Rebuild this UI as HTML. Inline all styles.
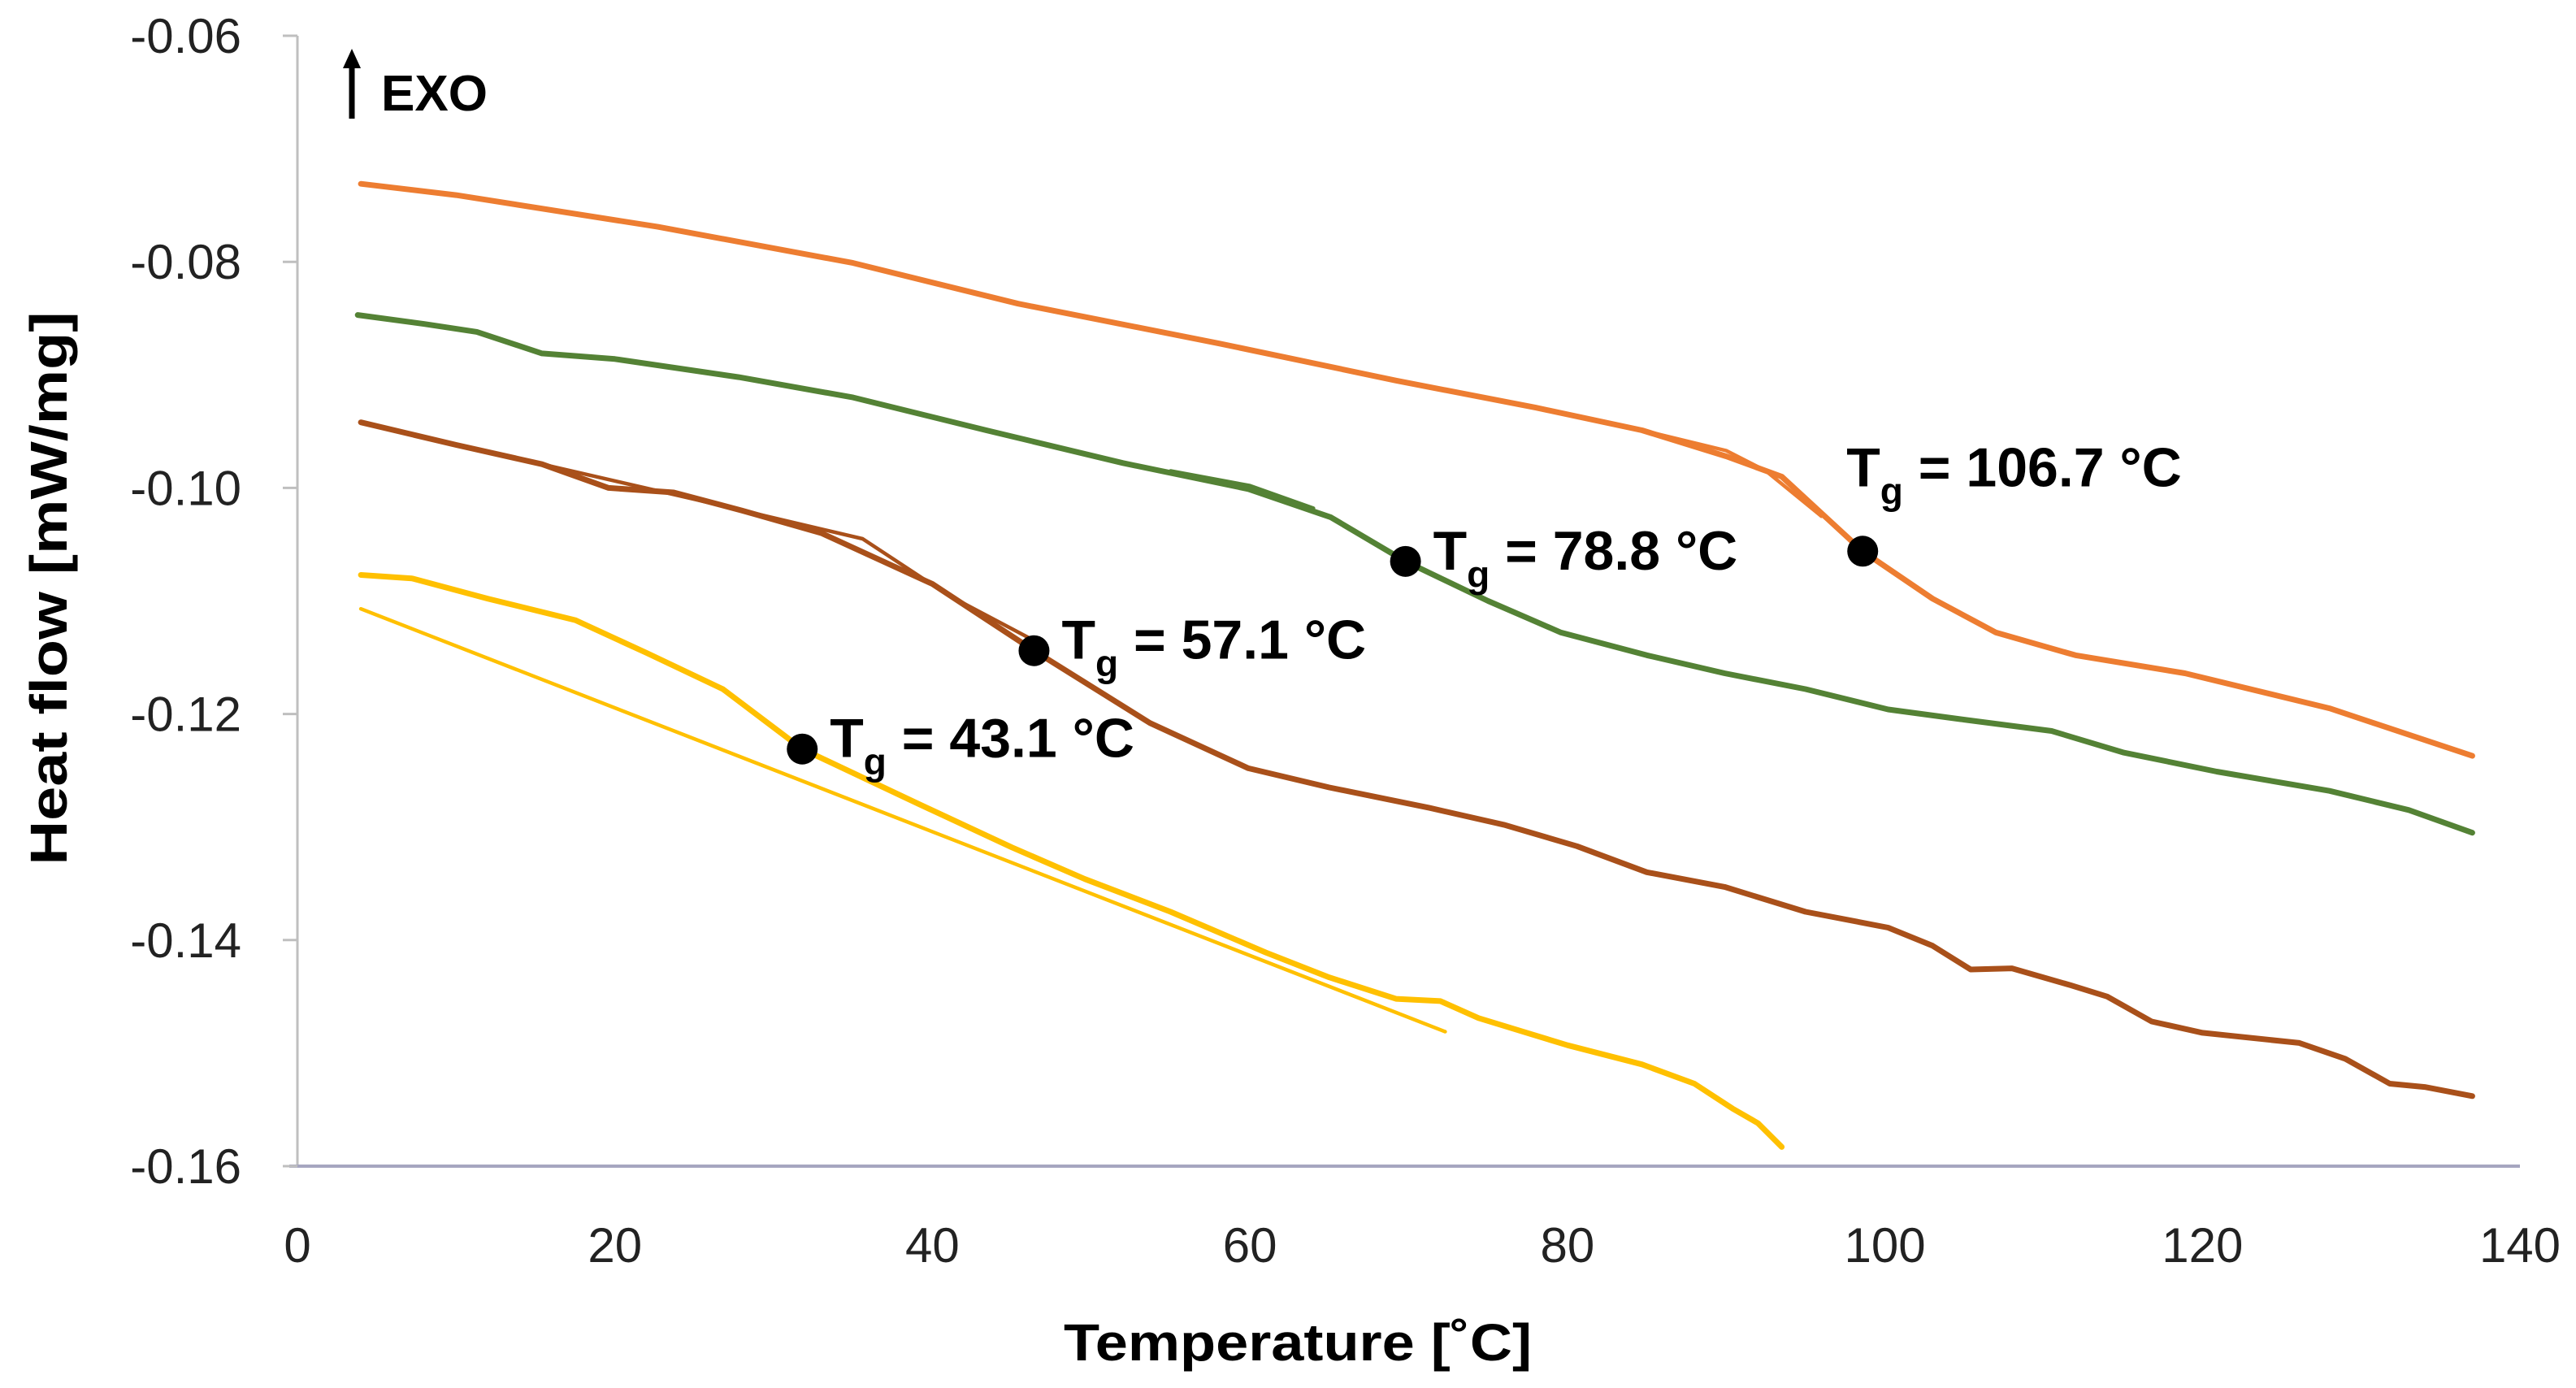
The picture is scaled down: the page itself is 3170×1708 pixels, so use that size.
<!DOCTYPE html>
<html><head><meta charset="utf-8"><style>
html,body{margin:0;padding:0;background:#fff;}
svg{display:block;font-family:"Liberation Sans",sans-serif;}
</style></head><body>
<svg id="chart" xmlns="http://www.w3.org/2000/svg" width="3170" height="1708" viewBox="0 0 3170 1708">
<rect width="3170" height="1708" fill="#fff"/>
<g id="axes"></g>
<g id="series"></g>
<g id="annotations"></g>
<g>
  <line x1="433" y1="146" x2="433" y2="78" stroke="#000" stroke-width="7"/>
  <polygon points="422,84 444,84 433,60" fill="#000"/>
  <text x="469" y="136" font-size="62" font-weight="bold" textLength="131" lengthAdjust="spacingAndGlyphs">EXO</text>
</g>
<text x="1597" y="1674" text-anchor="middle" font-size="64" font-weight="bold" textLength="576" lengthAdjust="spacingAndGlyphs">Temperature [˚C]</text>
<text transform="translate(82,724) rotate(-90)" text-anchor="middle" font-size="64" font-weight="bold" textLength="681" lengthAdjust="spacingAndGlyphs">Heat flow [mW/mg]</text>
</svg>
<script>
const xTicks = [0,20,40,60,80,100,120,140];
const yTicks = [-0.06,-0.08,-0.10,-0.12,-0.14,-0.16];
const yTickLabels = ["-0.06","-0.08","-0.10","-0.12","-0.14","-0.16"];

const orangeT = [4,10,22.7,35,45.4,58,69.2,78,84.7,90,93.5,98.6,103,107,112,118.9,128,137];
const orangeV = [-0.0731,-0.0741,-0.0769,-0.0801,-0.0837,-0.0872,-0.0905,-0.0929,-0.0949,-0.0972,-0.0990,-0.1056,-0.1098,-0.1128,-0.1148,-0.1164,-0.1195,-0.1237];
const orange2T = [84.7,90,92.5,96];
const orange2V = [-0.0949,-0.0967,-0.0985,-0.1025];

const greenT = [3.8,8,11.3,15.4,20,27.8,35,43.4,52,59.9,65.1,69.8,75,79.6,85,89.9,95,100.2,105,110.5,115,120.9,128,133,137];
const greenV = [-0.0847,-0.0855,-0.0862,-0.0881,-0.0886,-0.0902,-0.0920,-0.0949,-0.0978,-0.1001,-0.1026,-0.1065,-0.1100,-0.1128,-0.1148,-0.1164,-0.1178,-0.1196,-0.1205,-0.1215,-0.1234,-0.1251,-0.1268,-0.1285,-0.1305];
const green2T = [55,60,64];
const green2V = [-0.0985,-0.0998,-0.1018];

const brownT = [4,10,15.4,19.6,23.7,28,33,40,46.4,53.7,59.9,65,71.3,76,80.6,85,89.9,95,100.2,103,105.4,108,111.7,114,116.8,120,126.1,129,131.8,134,137];
const brownV = [-0.0942,-0.0962,-0.0979,-0.1000,-0.1004,-0.1020,-0.1040,-0.1085,-0.1144,-0.1208,-0.1248,-0.1265,-0.1283,-0.1298,-0.1317,-0.1340,-0.1353,-0.1375,-0.1389,-0.1405,-0.1426,-0.1425,-0.1440,-0.1450,-0.1472,-0.1482,-0.1491,-0.1505,-0.1527,-0.1530,-0.1538];
const brown2T = [15.4,25,35.6,41,46.4];
const brown2V = [-0.0979,-0.1010,-0.1045,-0.1095,-0.1135];

const yellowT = [4,7.2,12,17.5,22,26.8,31.8,39.2,45,49.6,55,61,65,69.2,72,74.4,80,84.7,88,90.4,92,93.5];
const yellowV = [-0.1077,-0.1080,-0.1098,-0.1117,-0.1146,-0.1178,-0.1231,-0.1280,-0.1318,-0.1346,-0.1375,-0.1411,-0.1433,-0.1452,-0.1454,-0.1469,-0.1493,-0.1510,-0.1527,-0.1549,-0.1562,-0.1583];
const yellow2T = [4,72.3];
const yellow2V = [-0.1107,-0.1481];

const tgT = [98.6,69.8,46.4,31.8];
const tgV = [-0.1056,-0.1065,-0.1144,-0.1231];
const tgLabels = ["106.7","78.8","57.1","43.1"];

const X0=366, X1=3101, Y0=44, Y1=1435;
function sx(t){return X0+(t-0)/(140-0)*(X1-X0);}
function sy(v){return Y0+(-0.06-v)/(0.10)*(Y1-Y0);}
const NS="http://www.w3.org/2000/svg";
function mk(tag,attrs,parent){const e=document.createElementNS(NS,tag);for(const k in attrs)e.setAttribute(k,attrs[k]);parent.appendChild(e);return e;}

const axes=document.getElementById('axes');
const yAxis=mk('line',{x1:X0,y1:Y0,x2:X0,y2:Y1,stroke:'#bfbfbf','stroke-width':3},axes);


const xAxis=mk('line',{x1:X0-10,y1:Y1,x2:X1,y2:Y1,stroke:'#a6a6c0','stroke-width':4},axes);


yTicks.forEach((v,i)=>{
  const tk=mk('line',{x1:X0-18,y1:sy(v),x2:X0,y2:sy(v),stroke:'#bfbfbf','stroke-width':3},axes);
  
  
  const t=mk('text',{x:297,y:sy(v)+21,'text-anchor':'end','font-size':60,fill:'#222'},axes);
  t.textContent=yTickLabels[i];
  
  
});
xTicks.forEach(v=>{
  const t=mk('text',{x:sx(v),y:1553,'text-anchor':'middle','font-size':60,fill:'#222'},axes);
  t.textContent=String(v);
  
  
});

const series=document.getElementById('series');
function line(T,V,color,w,name){
  const d=T.map((t,i)=>(i?'L':'M')+sx(t).toFixed(1)+','+sy(V[i]).toFixed(1)).join(' ');
  const p=mk('path',{d:d,fill:'none',stroke:color,'stroke-width':w,'stroke-linejoin':'round','stroke-linecap':'round'},series);
  
  
}
line(orange2T,orange2V,'#ED7D31',4.5,'orange-series-cooling');
line(orangeT,orangeV,'#ED7D31',7,'orange-series');
line(green2T,green2V,'#548235',4.5,'green-series-cooling');
line(greenT,greenV,'#548235',7,'green-series');
line(brown2T,brown2V,'#A9501A',4.5,'brown-series-cooling');
line(brownT,brownV,'#A9501A',7,'brown-series');
line(yellow2T,yellow2V,'#FFC000',4.5,'yellow-series-cooling');
line(yellowT,yellowV,'#FFC000',7,'yellow-series');

const ann=document.getElementById('annotations');
tgT.forEach((t,i)=>{
  const c=mk('circle',{cx:sx(t),cy:sy(tgV[i]),r:19,fill:'#000'},ann);
  
  
  const x=sx(t)+(i===0?-20:34);
  const y=i===0?sy(tgV[i])-80:sy(tgV[i])+10;
  const tx=mk('text',{x:x,y:y,'font-size':68,'font-weight':'bold',fill:'#000'},ann);
  
  
  const a=mk('tspan',{},tx);a.textContent='T';
  const b=mk('tspan',{dy:22,'font-size':46},tx);b.textContent='g';
  const c2=mk('tspan',{dy:-22},tx);c2.textContent=' = '+tgLabels[i]+' °C';
});
</script>
</body></html>
